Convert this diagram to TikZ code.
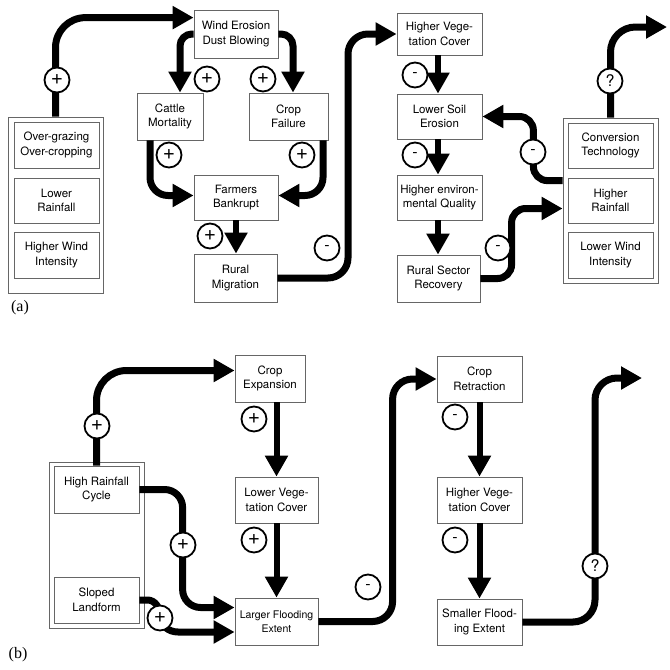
\documentclass[tikz,border=0pt]{standalone}
\usepackage{fontspec}
\setmainfont{TeX Gyre Heros}
\newfontfamily\labelfont{Liberation Serif}
\usetikzlibrary{arrows.meta,calc}
\begin{document}
\begin{tikzpicture}[x=1pt,y=-1pt,
 box/.style={draw=black!60, line width=0.8pt, fill=white, align=center, inner sep=1pt, font=\fontsize{11.5}{14.5}\selectfont},
 outerbox/.style={draw=black!60, line width=0.8pt, fill=white, inner sep=0pt},
 flow/.style={line width=7pt, -{Triangle[length=21pt,width=22pt]}},
 sflow/.style={line width=6pt, -{Triangle[length=21pt,width=22pt]}},
 sign/.style={circle, draw, line width=1.8pt, fill=white, minimum size=25pt, inner sep=0pt, font=\fontsize{16}{16}\selectfont},
 plus/.style={sign, font=\fontsize{21}{21}\selectfont},
 panellabel/.style={font=\labelfont\fontsize{16}{16}\selectfont, inner sep=0pt}]
\useasboundingbox (0,0) rectangle (670,670);
% ---------- panel (a) ----------
\node[box, minimum width=84pt, minimum height=48pt] (wind) at (236,34) {Wind Erosion\\Dust Blowing};
\node[box, minimum width=66pt, minimum height=47pt] (cattle) at (170,116.5) {Cattle\\Mortality};
\node[box, minimum width=79pt, minimum height=47pt] (crop) at (288.5,116.5) {Crop\\Failure};
\node[box, minimum width=84pt, minimum height=45pt] (farmers) at (236,197.5) {Farmers\\Bankrupt};
\node[box, minimum width=83pt, minimum height=48pt] (rural) at (235.5,278) {Rural\\Migration};
\node[outerbox, minimum width=95pt, minimum height=176pt] (lo) at (55.5,205) {};
\node[box, minimum width=85pt, minimum height=46pt] (og) at (56.5,145) {Over-grazing\\Over-cropping};
\node[box, minimum width=85pt, minimum height=45pt] (lr) at (56.5,200.5) {Lower\\Rainfall};
\node[box, minimum width=85pt, minimum height=46pt] (hwi) at (56.5,255) {Higher Wind\\Intensity};
\node[box, minimum width=85pt, minimum height=42pt] (hvc) at (439.5,34) {Higher Vege-\\tation Cover};
\node[box, minimum width=85pt, minimum height=45pt] (lse) at (439.5,116.5) {Lower Soil\\Erosion};
\node[box, minimum width=85pt, minimum height=45pt] (heq) at (439.5,197.5) {Higher environ-\\mental Quality};
\node[box, minimum width=83pt, minimum height=47pt] (rsr) at (438.5,278.5) {Rural Sector\\Recovery};
\node[outerbox, minimum width=95pt, minimum height=165pt] (ro) at (610.5,200.5) {};
\node[box, minimum width=85pt, minimum height=45pt] (ct) at (610.5,145.5) {Conversion\\Technology};
\node[box, minimum width=85pt, minimum height=45pt] (hr) at (610.5,200.5) {Higher\\Rainfall};
\node[box, minimum width=85pt, minimum height=46pt] (lwi) at (610.5,255) {Lower Wind\\Intensity};
\coordinate (outa) at (667,27);
\coordinate (ra) at (348,0);
\draw[flow, rounded corners=30pt] (lo.north) |- ($(wind.north west)+(0,8)$);
\draw[flow, rounded corners=12pt] (wind.west) -| ($(cattle.north)+(10,0)$);
\draw[flow, rounded corners=12pt] (wind.east) -| ($(crop.north)+(4.5,0)$);
\draw[flow, rounded corners=18pt] ($(cattle.south)+(-20,0)$) |- ($(farmers.west)+(0,-2)$);
\draw[flow, rounded corners=18pt] ($(crop.south)+(34.5,0)$) |- ($(farmers.east)+(0,-2)$);
\draw[sflow] (farmers.south) -- (farmers.south |- rural.north);
\draw[flow, rounded corners=20pt] (rural.east) -| (ra |- hvc.west) -- (hvc.west);
\draw[sflow] (hvc.south -| 438,0) -- (lse.north -| 438,0);
\draw[sflow] (lse.south -| 438,0) -- (heq.north -| 438,0);
\draw[sflow] (heq.south -| 438,0) -- (rsr.north -| 438,0);
\draw[flow, rounded corners=14pt] (rsr.east) -| ($(ro.west |- hr.west)+(-51,8)$) -- ($(ro.west |- hr.west)+(0,8)$);
\draw[flow, rounded corners=14pt] ($(ro.west |- hr.north)+(0,3)$) -| ($(lse.east)+(51,0)$) -- (lse.east);
\draw[flow, rounded corners=25pt] (ro.north) |- (outa);
\node[plus] (a1) at (57,80) {+};
\node[plus] (a2) at (207,79) {+};
\node[plus] (a3) at (263,79) {+};
\node[plus] (a4) at (169,155) {+};
\node[plus] (a5) at (302,155) {+};
\node[plus] (a6) at (210,236) {+};
\node[sign] (a7) at (327,248) {-};
\node[sign] (a8) at (415,75) {-};
\node[sign] (a9) at (415,155) {-};
\node[sign] (a10) at (498,248) {-};
\node[sign] (a11) at (533,152) {-};
\node[sign] (a12) at (610,81) {?};
\node[panellabel] (la) at (20,308) {(a)};
% ---------- panel (b) ----------
\node[box, minimum width=70pt, minimum height=47pt] (ce) at (270,378.5) {Crop\\Expansion};
\node[box, minimum width=83pt, minimum height=46pt] (lvc) at (276.5,500) {Lower Vege-\\tation Cover};
\node[box, minimum width=83pt, minimum height=47pt, font=\fontsize{10.5}{14}\selectfont] (lfe) at (276.5,621.5) {Larger Flooding\\Extent};
\node[outerbox, minimum width=95pt, minimum height=166pt] (bo) at (96.5,545) {};
\node[box, minimum width=85pt, minimum height=47pt] (hrc) at (96.5,489.5) {High Rainfall\\Cycle};
\node[box, minimum width=85pt, minimum height=46pt] (sl) at (96.5,600) {Sloped\\Landform};
\node[box, minimum width=85pt, minimum height=46pt] (cr) at (479.5,379) {Crop\\Retraction};
\node[box, minimum width=85pt, minimum height=46pt] (hvcb) at (479.5,500) {Higher Vege-\\tation Cover};
\node[box, minimum width=85pt, minimum height=46pt] (sfe) at (479.5,622) {Smaller Flood-\\ing Extent};
\coordinate (outb) at (642,378);
\draw[flow, rounded corners=30pt] (hrc.north) |- ($(ce.west)+(0,-8)$);
\draw[flow, rounded corners=18pt] (hrc.east) -| ($(lfe.west)+(-52,-14)$) -- ($(lfe.west)+(0,-14)$);
\draw[flow] (sl.east) -- ++(8,0) to[out=0,in=90] (160,616) to[out=-90,in=180] (178,632) -- ($(lfe.west)+(0,10.5)$);
\draw[sflow] (lvc.north |- ce.south) -- (lvc.north);
\draw[sflow] (lvc.south) -- (lfe.north);
\draw[flow, rounded corners=20pt] (lfe.east) -| ($(cr.west)+(-44,0)$) -- (cr.west);
\draw[sflow] (cr.south) -- (hvcb.north);
\draw[sflow] (hvcb.south) -- (sfe.north);
\draw[flow, rounded corners=22pt] (sfe.east) -| ($(outb)+(-47,0)$) -- (outb);
\node[plus] (b1) at (97,426) {+};
\node[plus] (b2) at (183,545) {+};
\node[plus] (b3) at (160,618) {+};
\node[plus] (b4) at (254,419) {+};
\node[plus] (b5) at (254,540) {+};
\node[sign] (b6) at (368,587) {-};
\node[sign] (b7) at (455,417) {-};
\node[sign] (b8) at (455,540) {-};
\node[sign] (b9) at (595,566) {?};
\node[panellabel] (lb) at (18,655) {(b)};
\end{tikzpicture}
\end{document}
